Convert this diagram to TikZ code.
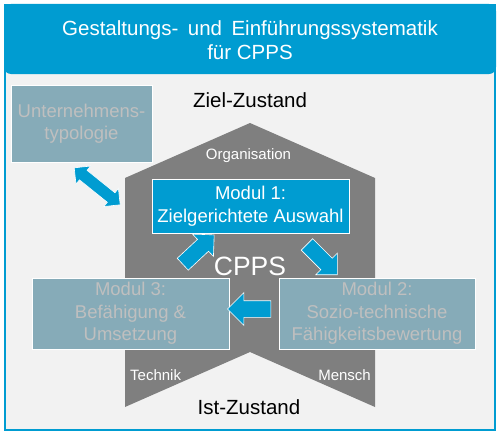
\documentclass[tikz,border=0pt]{standalone}
\usepackage{fontspec}
\setmainfont{Liberation Sans}
\usetikzlibrary{shapes.arrows}
\definecolor{cblue}{RGB}{0,156,209}
\definecolor{bgfill}{RGB}{242,242,242}
\definecolor{housegray}{RGB}{127,127,127}
\definecolor{modgray}{RGB}{134,171,184}
\definecolor{modtext}{RGB}{191,191,191}
\begin{document}
\begin{tikzpicture}[x=1pt,y=-1pt,
  modbox/.style={draw=white, line width=0.8pt, fill=modgray, text=modtext, align=center, inner sep=0pt, font=\fontsize{18.5}{22.5}\selectfont},
  activebox/.style={modbox, fill=cblue, text=white},
  lbl/.style={text=white, font=\fontsize{15}{18}\selectfont, inner sep=0pt},
  statelbl/.style={text=black, font=\fontsize{20.5}{24}\selectfont, inner sep=0pt},
  blockarrow/.style={single arrow, draw=white, line width=0.6pt, fill=cblue, inner sep=7.8pt, single arrow head extend=7.2pt, minimum height=43pt},
  dblarrow/.style={double arrow, draw=white, line width=0.6pt, fill=cblue, inner sep=5.8pt, double arrow head extend=5.5pt, minimum height=59pt}
]
\useasboundingbox (0,0) rectangle (502,436);
% frame
\draw[cblue, line width=1.5pt, fill=bgfill] (5,5) rectangle (495,430);
\fill[cblue, rounded corners=7pt] (4,4) rectangle (496,74);
\node[text=white, align=center, inner sep=0pt, font=\fontsize{20.5}{24.6}\selectfont] (title) at (250,40) {Gestaltungs-\hspace{9.5pt}und\hspace{9.5pt}Einführungssystematik\\für CPPS};
% states
\node[statelbl, anchor=base] (ziel) at (250,107) {Ziel-Zustand};
\node[statelbl, anchor=base] (ist) at (249,414) {Ist-Zustand};
% house
\fill[housegray] (250,123) -- (375,178) -- (375,407) -- (250,352) -- (125,407) -- (125,178) -- cycle;
\node[lbl, anchor=base] (org) at (248.5,159) {Organisation};
\node[lbl, anchor=base west] (tech) at (130,380) {Technik};
\node[lbl, anchor=base east] (mensch) at (371,380) {Mensch};
\node[text=white, inner sep=0pt, anchor=base, font=\fontsize{26.5}{30}\selectfont] (cpps) at (250,275) {CPPS};
% boxes
\node[activebox, minimum width=197pt, minimum height=54pt] (m1) at (250.5,206) {Modul 1:\\Zielgerichtete Auswahl};
\node[modbox, minimum width=197pt, minimum height=71pt] (m3) at (130.5,313.5) {Modul 3:\\Befähigung \&\\Umsetzung};
\node[modbox, minimum width=196pt, minimum height=71pt] (m2) at (377,313.5) {Modul 2:\\Sozio-technische\\Fähigkeitsbewertung};
\node[modbox, minimum width=141pt, minimum height=77pt] (typ) at (81.5,123.5) {Unternehmens-\\typologie};
% arrows
\node[blockarrow, rotate=43] (a31) at (195.5,252.3) {};
\node[blockarrow, rotate=-45] (a12) at (319.3,256.7) {};
\node[blockarrow, rotate=180, inner sep=8pt, single arrow head extend=8pt, minimum height=43.3pt] (a23) at (253.3,309) {};
\node[dblarrow, rotate=-38.8] (atyp) at (97.2,186.3) {};
\end{tikzpicture}
\end{document}
